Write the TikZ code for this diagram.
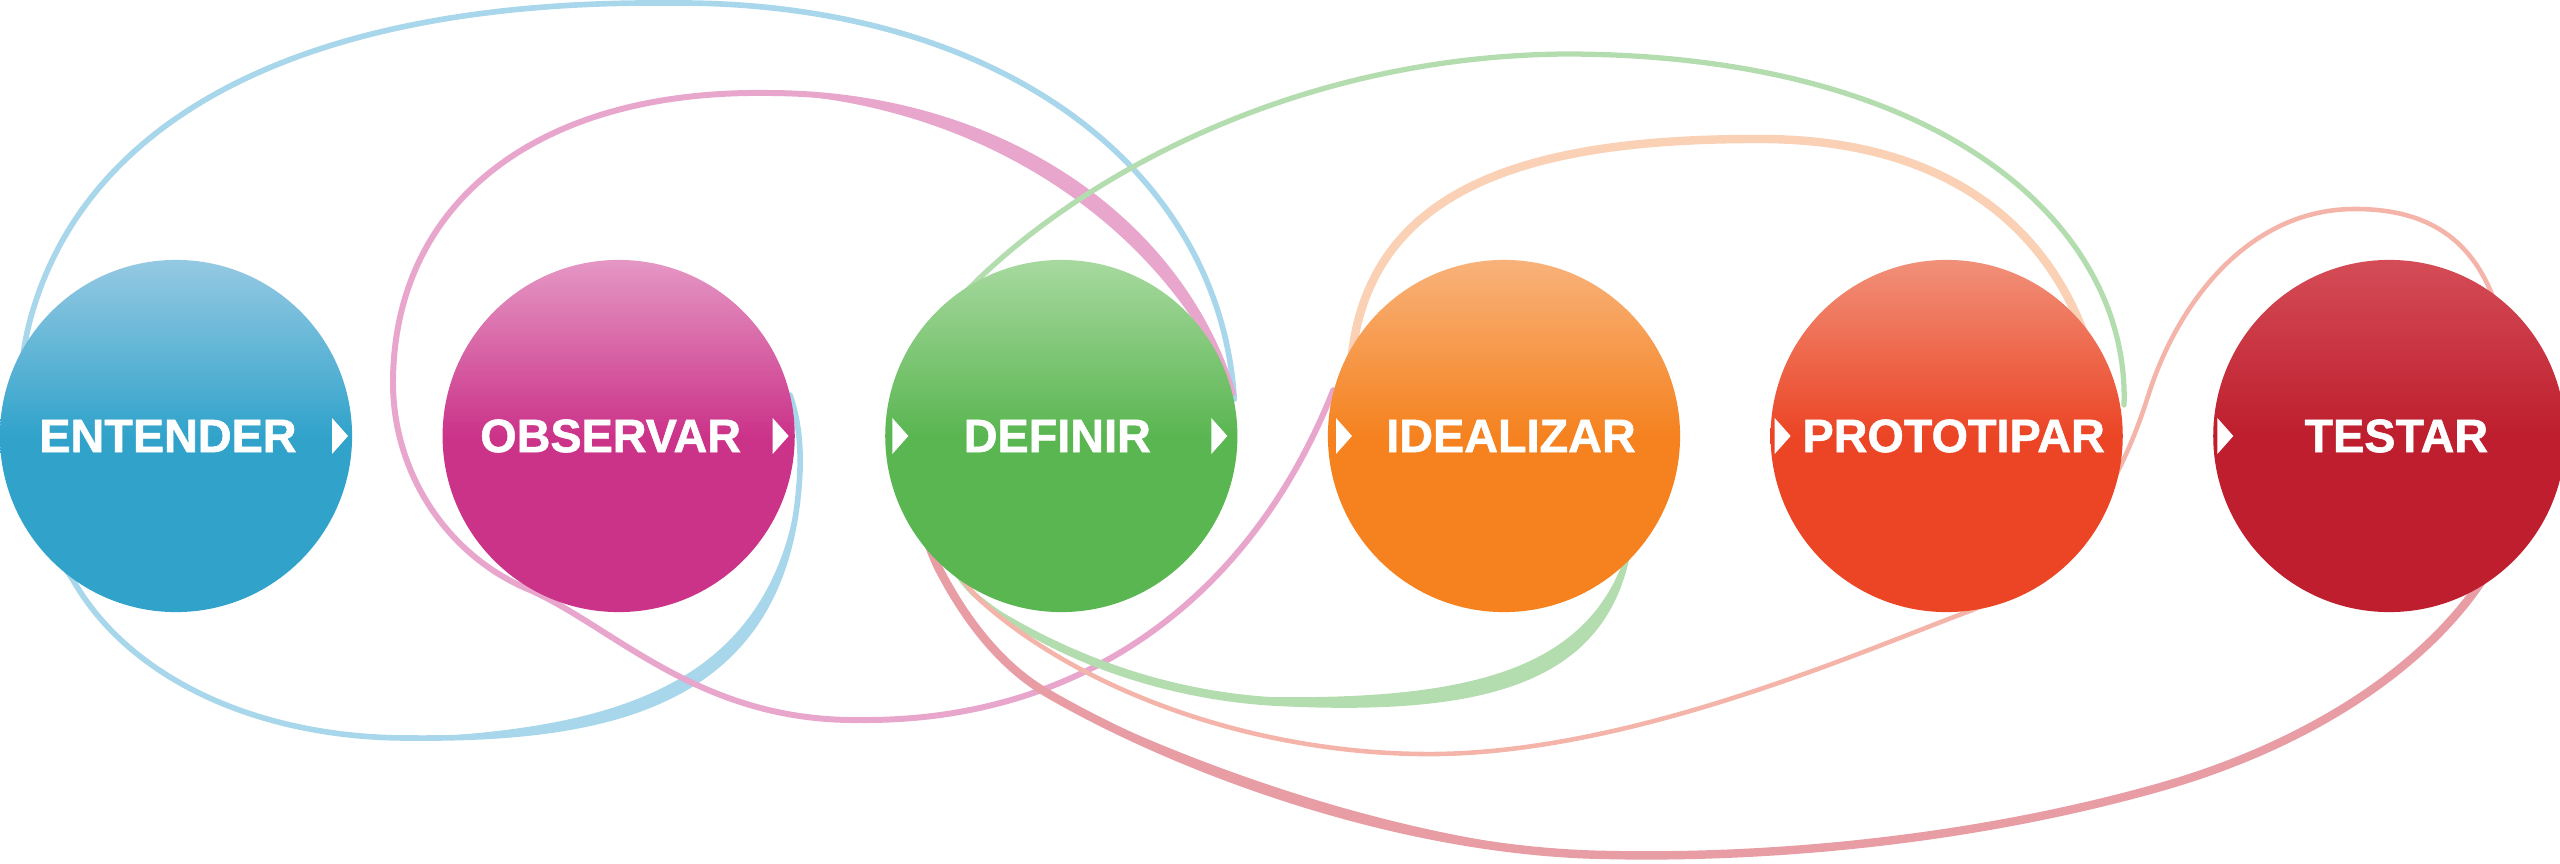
\documentclass[tikz,border=0pt]{standalone}
\usepackage{fontspec}
\setmainfont{Liberation Sans}
\newfontfamily\stagefont{Liberation Sans}[BoldFeatures={FakeBold=1.2}]
\usetikzlibrary{positioning,calc,backgrounds}

\definecolor{entC}{HTML}{31A3CB}
\definecolor{entL}{HTML}{95C9E2}
\definecolor{obsC}{HTML}{CB3389}
\definecolor{obsL}{HTML}{E597C4}
\definecolor{defC}{HTML}{5AB651}
\definecolor{defL}{HTML}{A7D99F}
\definecolor{ideC}{HTML}{F5821F}
\definecolor{ideL}{HTML}{F8B27A}
\definecolor{proC}{HTML}{EB4525}
\definecolor{proL}{HTML}{F19079}
\definecolor{tesC}{HTML}{BE1E2D}
\definecolor{tesL}{HTML}{D44C57}
\definecolor{blueloop}{HTML}{A8D6EA}
\definecolor{pinkloop}{HTML}{E8A6CD}
\definecolor{greenloop}{HTML}{B4DDAF}
\definecolor{orangeloop}{HTML}{FAD1B5}
\definecolor{salmonloop}{HTML}{F4B4A9}
\definecolor{redloop}{HTML}{E89DA5}

\tikzset{
  stage/.style={circle, minimum size=3.52cm, inner sep=0pt, top color=#1L, bottom color=#1C, middle color=#1C},
  stagetext/.style={text=white, font=\stagefont\bfseries\fontsize{13.3}{16}\selectfont},
  trail/.style={line width=#1, line cap=round, line join=round},
}
\newcommand\playtri[1]{\fill[white] (#1) ++(-8,-18) -- ++(16,18) -- ++(-16,18) -- cycle;}

\begin{document}
\begin{tikzpicture}[x=0.01cm, y=-0.01cm, node distance=0.89cm]
  \useasboundingbox (0,0) rectangle (2560,864);
  \node[stage=ent] (ent) at (176,436) {};
  \node[stage=obs, right=of ent] (obs) {};
  \node[stage=def, right=of obs] (def) {};
  \node[stage=ide, right=of def] (ide) {};
  \node[stage=pro, right=of ide] (pro) {};
  \node[stage=tes, right=of pro] (tes) {};

  \node[stagetext] (entT) at ([xshift=-0.08cm]ent.center) {ENTENDER};
  \node[stagetext] (obsT) at ([xshift=-0.08cm]obs.center) {OBSERVAR};
  \node[stagetext] (defT) at ([xshift=-0.04cm]def.center) {DEFINIR};
  \node[stagetext] (ideT) at ([xshift=0.07cm]ide.center) {IDEALIZAR};
  \node[stagetext] (proT) at ([xshift=0.07cm]pro.center) {PROTOTIPAR};
  \node[stagetext] (tesT) at ([xshift=0.07cm]tes.center) {TESTAR};

  \playtri{$(ent.center)+(164,0)$}
  \playtri{$(obs.center)+(162,0)$}
  \playtri{$(def.center)+(-161,0)$}
  \playtri{$(def.center)+(158,0)$}
  \playtri{$(ide.center)+(-160,0)$}
  \playtri{$(pro.center)+(-164,0)$}
  \playtri{$(tes.center)+(-164,0)$}

  \begin{scope}[on background layer]
    \draw[trail=1.6pt, blueloop] (def.12) .. controls (1220,170) and (1000,0) .. (669,3)
      .. controls (300,0) and (90,120) .. (33,310)
      .. controls (4,405) and (25,510) .. (73,580)
      .. controls (130,680) and (260,738) .. (408,738)
      .. controls (620,740) and (790,700) .. (800,470)
      .. controls (801,440) and (797,415) .. (790,395);
    \fill[blueloop] (408,738) .. controls (620,740) and (790,700) .. (800,470)
      .. controls (780,690) and (610,728) .. (408,738) -- cycle;

    \draw[trail=1.7pt, pinkloop] (def.14) .. controls (1180,220) and (1000,93) .. (767,93)
      .. controls (540,90) and (395,200) .. (393,380)
      .. controls (392,470) and (445,555) .. (530,590)
      .. controls (615,628) and (700,722) .. (860,720)
      .. controls (1080,722) and (1250,600) .. (ide.165);
    \fill[pinkloop] (def.14) .. controls (1180,220) and (1000,93) .. (767,93)
      .. controls (990,105) and (1165,232) .. (def.14) -- cycle;

    \draw[trail=1.5pt, greenloop] (2124,405) .. controls (2130,230) and (1950,55) .. (1567,54)
      .. controls (1280,56) and (1060,190) .. (958,300)
      .. controls (915,360) and (905,530) .. (975,595)
      .. controls (1040,650) and (1150,695) .. (1270,703)
      .. controls (1490,715) and (1610,680) .. (1630,540);
    \fill[greenloop] (975,595) .. controls (1040,650) and (1150,695) .. (1270,703)
      .. controls (1490,715) and (1610,680) .. (1630,540)
      .. controls (1597,664) and (1485,700) .. (1270,697)
      .. controls (1150,689) and (1050,645) .. (975,595) -- cycle;

    \draw[trail=2.4pt, orangeloop] (1350,400) .. controls (1345,190) and (1520,138) .. (1763,139)
      .. controls (1960,140) and (2070,240) .. (2100,390);

    \draw[trail=1.3pt, salmonloop] (2510,380) .. controls (2500,250) and (2440,209) .. (2355,209)
      .. controls (2250,209) and (2180,300) .. (2150,390)
      .. controls (2125,470) and (2080,570) .. (1967,612)
      .. controls (1850,656) and (1620,757) .. (1420,754)
      .. controls (1250,752) and (1080,690) .. (980,600)
      .. controls (965,585) and (955,570) .. (950,555);

    \draw[trail=2.4pt, redloop] (2525,470) .. controls (2510,600) and (2370,730) .. (2150,790)
      .. controls (1950,845) and (1750,858) .. (1608,855)
      .. controls (1400,852) and (1180,770) .. (1047,693)
      .. controls (990,660) and (955,600) .. (938,567)
      .. controls (930,550) and (925,535) .. (922,520);
    \fill[redloop] (1608,855) .. controls (1400,852) and (1180,770) .. (1047,693)
      .. controls (1185,762) and (1400,843) .. (1608,855) -- cycle;
  \end{scope}
\end{tikzpicture}
\end{document}
